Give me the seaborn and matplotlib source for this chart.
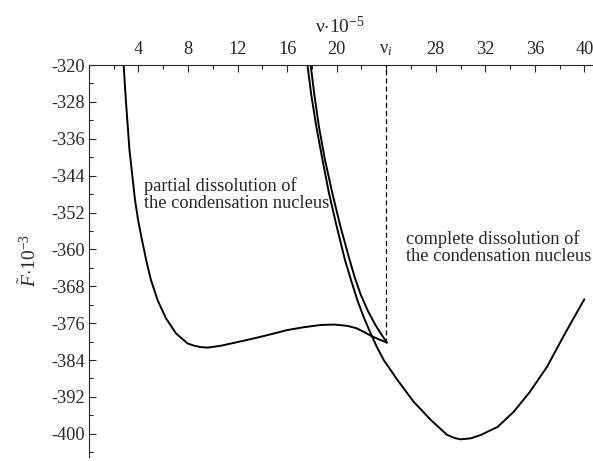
import pandas as pd
import matplotlib
matplotlib.use("Agg")
import matplotlib.pyplot as plt
import seaborn as sns
from matplotlib.ticker import FixedLocator, FixedFormatter, MultipleLocator

# partial dissolution branch, ending in the cusp at nu_i
partial_nu = [2.80, 2.98, 3.27, 3.72, 3.98, 4.30, 4.62, 5.0, 5.54, 6.21, 7.02, 7.96, 8.5, 9.03, 9.6,
              10.65, 12.0, 13.33, 14.7, 16.0, 17.3, 18.7, 19.8, 20.9, 21.6, 22.2, 22.8, 23.4, 24.05]
partial_F = [-320.0, -327.6, -338.4, -349.3, -353.8, -358.2, -362.3, -366.6, -371.0, -374.9, -378.2,
             -380.4, -380.9, -381.2, -381.3, -380.9, -380.1, -379.3, -378.4, -377.5, -376.9, -376.4,
             -376.3, -376.6, -377.1, -377.9, -378.8, -379.5, -380.2]

# upper branch leaving the cusp
upper_nu = [24.05, 23.6, 23.15, 22.55, 21.94, 21.45, 21.05, 20.3, 19.65, 19.05, 18.57, 18.2, 17.90]
upper_F = [-380.2, -378.4, -376.5, -373.5, -369.8, -366.0, -362.3, -355.0, -347.8, -340.5, -333.4,
           -326.5, -320.0]

# complete dissolution branch
complete_nu = [17.64, 17.95, 18.36, 18.85, 19.38, 20.0, 20.67, 21.2, 21.67, 22.2, 22.74, 23.25, 23.8,
               24.9, 26.2, 27.6, 28.9, 29.5, 30.0, 30.8, 31.6, 33.0, 34.3, 35.6, 37.0, 38.3, 39.2, 40.0]
complete_F = [-320.0, -326.5, -333.4, -340.5, -347.8, -355.0, -362.3, -367.0, -371.0, -374.8, -378.2,
              -381.2, -384.0, -388.3, -393.0, -397.0, -400.2, -400.9, -401.2, -401.0, -400.3, -398.5,
              -395.2, -390.9, -385.4, -378.9, -374.6, -370.8]

nu_i = 24.0
cusp_F = -380.2

x_ticks = [4, 8, 12, 16, 20, 24, 28, 32, 36, 40]
x_labels = ["4", "8", "12", "16", "20", r"ν$_i$", "28", "32", "36", "40"]
y_ticks = [-320, -328, -336, -344, -352, -360, -368, -376, -384, -392, -400]
y_labels = [str(v) for v in y_ticks]

df = pd.concat([
    pd.DataFrame({"nu": partial_nu, "F": partial_F, "branch": "partial"}),
    pd.DataFrame({"nu": upper_nu, "F": upper_F, "branch": "upper"}),
    pd.DataFrame({"nu": complete_nu, "F": complete_F, "branch": "complete"}),
], ignore_index=True)

sns.set_style("ticks")
plt.rcParams['font.family'] = 'serif'
plt.rcParams['font.serif'] = ['Liberation Serif', 'Times New Roman', 'DejaVu Serif']
plt.rcParams['mathtext.fontset'] = 'custom'
plt.rcParams['mathtext.rm'] = 'Liberation Serif'
plt.rcParams['mathtext.it'] = 'Liberation Serif:italic'
plt.rcParams['axes.unicode_minus'] = False

fig = plt.figure(figsize=(5.93, 4.61), dpi=100)
ax = fig.add_axes([0.150, 0.009, 0.848, 0.850])

sns.lineplot(data=df, x="nu", y="F", units="branch", estimator=None, sort=False,
             color="black", linewidth=1.4, ax=ax)
ax.vlines(nu_i, cusp_F, -320, colors="black", linestyles=(0, (4, 2.5)), linewidth=0.9)

ax.set_xlim(0, 40.6)
ax.set_ylim(-405, -320)

ax.xaxis.tick_top()
ax.xaxis.set_label_position("top")
ax.xaxis.set_major_locator(FixedLocator(x_ticks))
ax.xaxis.set_major_formatter(FixedFormatter(x_labels))
ax.xaxis.set_minor_locator(MultipleLocator(2))
ax.yaxis.set_major_locator(FixedLocator(y_ticks))
ax.yaxis.set_major_formatter(FixedFormatter(y_labels))
ax.yaxis.set_minor_locator(MultipleLocator(4))

ax.tick_params(which="major", direction="in", length=5, width=0.8, labelsize=13.2)
ax.tick_params(which="minor", direction="in", length=3, width=0.8)
ax.tick_params(axis="x", pad=5)
ax.tick_params(axis="y", pad=3)

for side in ["right", "bottom"]:
    ax.spines[side].set_visible(False)
for side in ["left", "top"]:
    ax.spines[side].set_linewidth(0.8)

ax.set_xlabel(r"ν$\cdot$10$^{-5}$", fontsize=14, labelpad=6)
ax.set_ylabel(r"$\tilde{F}$$\cdot$10$^{-3}$", fontsize=14, labelpad=8)

ax.text(4.41, -348.0, "partial dissolution of\nthe condensation nucleus",
        fontsize=13.2, ha="left", va="center", linespacing=1.0)
ax.text(25.6, -359.5, "complete dissolution of\nthe condensation nucleus",
        fontsize=13.2, ha="left", va="center", linespacing=1.0)

fig.savefig("out.png", dpi=100)
